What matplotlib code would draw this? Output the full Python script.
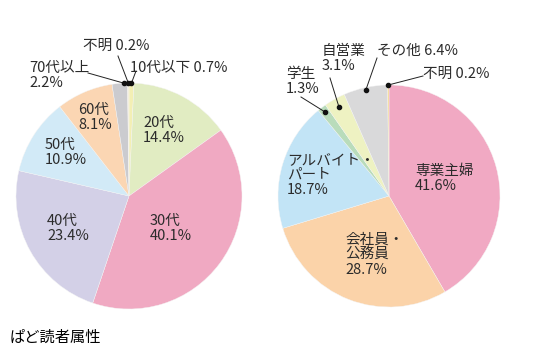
import numpy as np
import matplotlib
matplotlib.use("Agg")
from matplotlib import pyplot as plt

plt.rcParams['font.family'] = ['Noto Sans CJK JP', 'DejaVu Sans']

# left pie: age groups (clockwise from top)
age_labels = ['10代以下', '20代', '30代', '40代', '50代', '60代', '70代以上', '不明']
age_values = [0.7, 14.4, 40.1, 23.4, 10.9, 8.1, 2.2, 0.2]
age_colors = ['#f3efb4', '#e1ecc2', '#f0a9c2', '#d3d0e7', '#d2eaf7', '#fbd6b3', '#cbcbcf', '#f5eed8']

# right pie: occupation (clockwise from top)
job_labels = ['専業主婦', '会社員・\n公務員', 'アルバイト・\nパート', '学生', '自営業', 'その他', '不明']
job_values = [41.6, 28.7, 18.7, 1.3, 3.1, 6.4, 0.2]
job_colors = ['#f1a9c3', '#fbd3a9', '#c2e4f6', '#b9dcbb', '#eef2c2', '#d9d9da', '#f6d88c']

W, H = 535, 355
TXT = '#2b2b2b'
FS = 10.5


def px(x, y):
    # pixel coords (origin top-left) -> data coords
    return x, H - y


def draw_pie(ax, values, colors, cx, cy, r):
    cx, cy = px(cx, cy)
    ax.pie(values, colors=colors, startangle=90, counterclock=False,
           center=(cx, cy), radius=r, frame=True,
           wedgeprops=dict(edgecolor='#f4f4f4', linewidth=0.3))
    # mid angles of each wedge (degrees, math convention)
    cum = np.cumsum([0] + list(values))
    mids = 90 - 360 * (cum[:-1] + cum[1:]) / 2 / 100.0
    return cx, cy, mids


def label(ax, text, x, y, size=FS):
    ax.text(*px(x, y), text, ha='left', va='top', fontsize=size, color=TXT,
            linespacing=1.1)


def leader(ax, cx, cy, r, ang, x2, y2, rr=1.0):
    a = np.deg2rad(ang)
    x1, y1 = cx + rr * r * np.cos(a), cy + rr * r * np.sin(a)
    ax.plot([x1, x2], [y1, H - y2], color='#222222', lw=0.7)
    ax.plot([x1], [y1], 'o', color='#111111', ms=3)


fig = plt.figure(figsize=(W / 100, H / 100), dpi=100)
ax = fig.add_axes([0, 0, 1, 1])

# left pie
lcx, lcy, lmid = draw_pie(ax, age_values, age_colors, 129, 196, 113)
inside_left = {1: (143, 116), 2: (150, 214), 3: (47, 214), 4: (45, 138), 5: (78, 103)}
for i, (x, y) in inside_left.items():
    label(ax, f"{age_labels[i]}\n{age_values[i]}%", x, y)
label(ax, f"{age_labels[0]} {age_values[0]}%", 130, 61)
label(ax, f"{age_labels[7]} {age_values[7]}%", 83, 39)
label(ax, f"{age_labels[6]}\n{age_values[6]}%", 29, 61)
leader(ax, lcx, lcy, 113, lmid[0], 136, 71)
leader(ax, lcx, lcy, 113, lmid[7], 118, 56)
leader(ax, lcx, lcy, 113, lmid[6] - 2, 88, 73)

# right pie
rcx, rcy, rmid = draw_pie(ax, job_values, job_colors, 389, 196, 111)
label(ax, f"{job_labels[0]}\n{job_values[0]}%", 415, 164)
label(ax, f"{job_labels[1]}\n{job_values[1]}%", 345, 233)
label(ax, f"{job_labels[2]}\n{job_values[2]}%", 287, 153)
label(ax, f"{job_labels[3]}\n{job_values[3]}%", 286, 67)
label(ax, f"{job_labels[4]}\n{job_values[4]}%", 322, 44)
label(ax, f"{job_labels[5]} {job_values[5]}%", 377, 44)
label(ax, f"{job_labels[6]} {job_values[6]}%", 423, 67)
leader(ax, rcx, rcy, 111, rmid[6], 423, 76, 1.0)
leader(ax, rcx, rcy, 111, rmid[5], 377, 58, 0.98)
leader(ax, rcx, rcy, 111, rmid[4], 330, 78, 0.92)
leader(ax, rcx, rcy, 111, rmid[3], 301, 97, 0.95)

ax.text(*px(10, 337), 'ぱど読者属性', ha='left', va='center', fontsize=11, color='black')

ax.set_xlim(0, W)
ax.set_ylim(0, H)
ax.set_aspect('equal')
ax.axis('off')

fig.savefig('out.png', dpi=100)
